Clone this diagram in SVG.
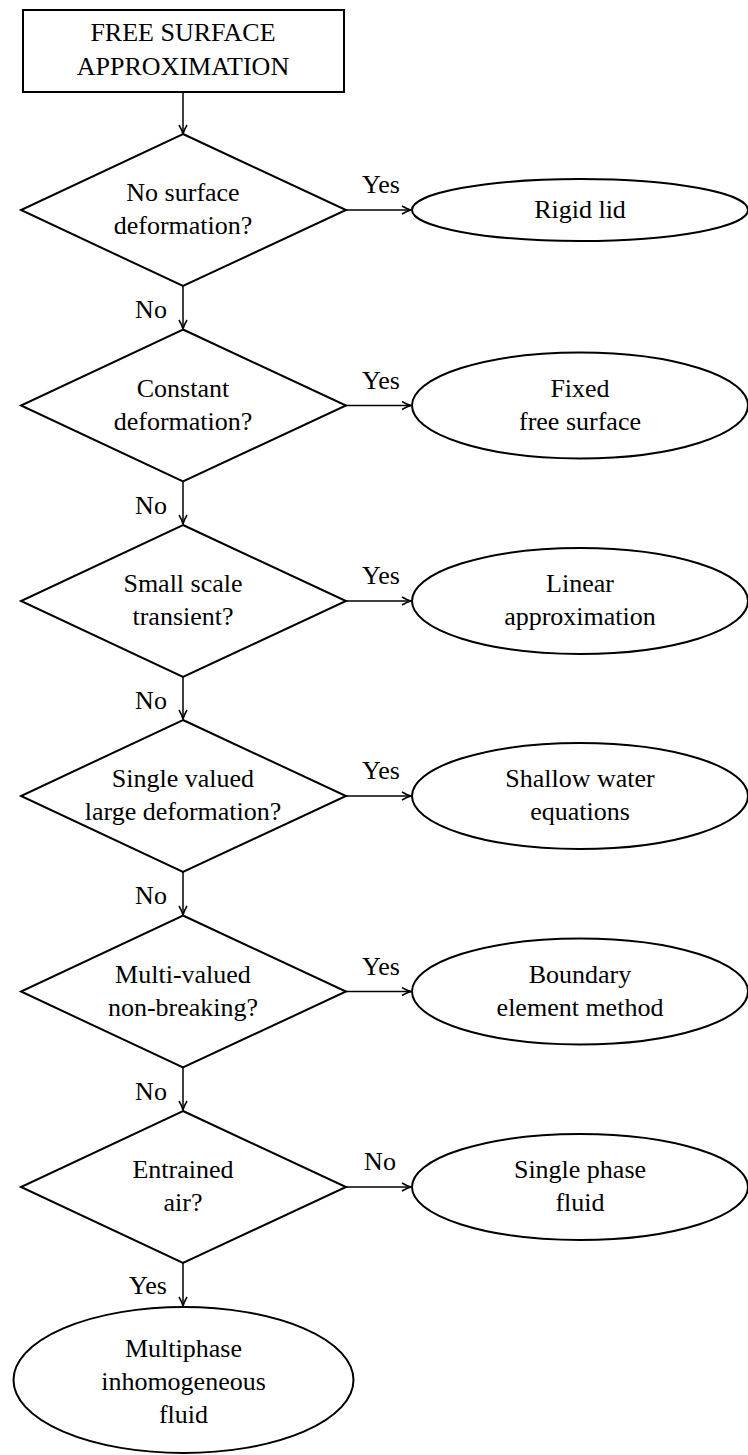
<svg xmlns="http://www.w3.org/2000/svg" width="748" height="1455" viewBox="0 0 748 1455">
<style>
text{font-size:26px;fill:#000;text-anchor:middle}
.shape{fill:#fff;stroke:#000;stroke-width:2}
.conn{fill:none;stroke:#000;stroke-width:1.5}
</style>
<defs>
<marker id="ah" viewBox="-10 -5 11 10" refX="0" refY="0" markerWidth="11" markerHeight="10" markerUnits="userSpaceOnUse" orient="auto">
<path d="M-9,-4 Q-4,-1 0,0 Q-4,1 -9,4" fill="none" stroke="#000" stroke-width="1.5"/>
</marker>
</defs>
<rect width="748" height="1455" fill="#fff"/>
<g font-family="Liberation Serif, Times New Roman, serif">
<g id="connectors">
<line class="conn" x1="183" y1="92" x2="183" y2="134" marker-end="url(#ah)"/>
<line class="conn" x1="346" y1="210" x2="411" y2="210" marker-end="url(#ah)"/>
<line class="conn" x1="183" y1="286" x2="183" y2="329" marker-end="url(#ah)"/>
<text x="151" y="318">No</text>
<text x="381" y="193">Yes</text>
<line class="conn" x1="346" y1="405.5" x2="411" y2="405.5" marker-end="url(#ah)"/>
<line class="conn" x1="183" y1="481.5" x2="183" y2="524" marker-end="url(#ah)"/>
<text x="151" y="513.5">No</text>
<text x="381" y="388.5">Yes</text>
<line class="conn" x1="346" y1="601" x2="411" y2="601" marker-end="url(#ah)"/>
<line class="conn" x1="183" y1="677" x2="183" y2="719" marker-end="url(#ah)"/>
<text x="151" y="709">No</text>
<text x="381" y="584">Yes</text>
<line class="conn" x1="346" y1="796" x2="411" y2="796" marker-end="url(#ah)"/>
<line class="conn" x1="183" y1="872" x2="183" y2="915" marker-end="url(#ah)"/>
<text x="151" y="904">No</text>
<text x="381" y="779">Yes</text>
<line class="conn" x1="346" y1="991.5" x2="411" y2="991.5" marker-end="url(#ah)"/>
<line class="conn" x1="183" y1="1067.5" x2="183" y2="1110" marker-end="url(#ah)"/>
<text x="151" y="1099.5">No</text>
<text x="381" y="974.5">Yes</text>
<line class="conn" x1="346" y1="1187" x2="411" y2="1187" marker-end="url(#ah)"/>
<text x="380" y="1170">No</text>
<line class="conn" x1="183" y1="1263" x2="183" y2="1306" marker-end="url(#ah)"/>
<text x="148" y="1294">Yes</text>
</g>
<g id="start">
<rect class="shape" x="23" y="10" width="321" height="82"/>
<text x="183" y="41">FREE SURFACE</text>
<text x="183" y="75">APPROXIMATION</text>
</g>
<g id="d1">
<polygon class="shape" points="183,134 346,210 183,286 21,210"/>
<text x="183" y="201">No surface</text>
<text x="183" y="234">deformation?</text>
</g>
<g id="e1">
<ellipse class="shape" cx="580" cy="210" rx="168" ry="31"/>
<text x="580" y="218">Rigid lid</text>
</g>
<g id="d2">
<polygon class="shape" points="183,329.5 346,405.5 183,481.5 21,405.5"/>
<text x="183" y="396.5">Constant</text>
<text x="183" y="429.5">deformation?</text>
</g>
<g id="e2">
<ellipse class="shape" cx="580" cy="405.5" rx="168" ry="53"/>
<text x="580" y="396.5">Fixed</text>
<text x="580" y="429.5">free surface</text>
</g>
<g id="d3">
<polygon class="shape" points="183,525 346,601 183,677 21,601"/>
<text x="183" y="592">Small scale</text>
<text x="183" y="625">transient?</text>
</g>
<g id="e3">
<ellipse class="shape" cx="580" cy="601" rx="168" ry="53"/>
<text x="580" y="592">Linear</text>
<text x="580" y="625">approximation</text>
</g>
<g id="d4">
<polygon class="shape" points="183,720 346,796 183,872 21,796"/>
<text x="183" y="787">Single valued</text>
<text x="183" y="820">large deformation?</text>
</g>
<g id="e4">
<ellipse class="shape" cx="580" cy="796" rx="168" ry="53"/>
<text x="580" y="787">Shallow water</text>
<text x="580" y="820">equations</text>
</g>
<g id="d5">
<polygon class="shape" points="183,915.5 346,991.5 183,1067.5 21,991.5"/>
<text x="183" y="982.5">Multi-valued</text>
<text x="183" y="1015.5">non-breaking?</text>
</g>
<g id="e5">
<ellipse class="shape" cx="580" cy="991.5" rx="168" ry="53"/>
<text x="580" y="982.5">Boundary</text>
<text x="580" y="1015.5">element method</text>
</g>
<g id="d6">
<polygon class="shape" points="183,1111 346,1187 183,1263 21,1187"/>
<text x="183" y="1178">Entrained</text>
<text x="183" y="1211">air?</text>
</g>
<g id="e6">
<ellipse class="shape" cx="580" cy="1187" rx="168" ry="53"/>
<text x="580" y="1178">Single phase</text>
<text x="580" y="1211">fluid</text>
</g>
<g id="e7">
<ellipse class="shape" cx="183.5" cy="1380" rx="170" ry="73"/>
<text x="183.5" y="1357">Multiphase</text>
<text x="183.5" y="1390">inhomogeneous</text>
<text x="183.5" y="1423">fluid</text>
</g>
</g>
</svg>
